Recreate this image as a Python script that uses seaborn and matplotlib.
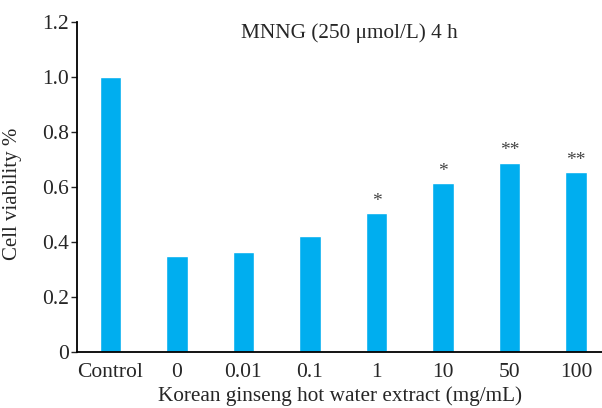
import numpy as np
import pandas as pd
import matplotlib
matplotlib.use('Agg')
import matplotlib.pyplot as plt
import seaborn as sns

# data
categories = ['Control', '0', '0.01', '0.1', '1', '10', '50', '100']
viability = [1.0, 0.349, 0.362, 0.421, 0.504, 0.613, 0.688, 0.654]
marks = ['', '', '', '', '*', '*', '**', '**']
yticks = [0, 0.2, 0.4, 0.6, 0.8, 1.0, 1.2]
yticklabels = ['0', '0.2', '0.4', '0.6', '0.8', '1.0', '1.2']

sns.set_style('ticks')
plt.rcParams['font.family'] = ['Liberation Serif', 'DejaVu Serif']

df = pd.DataFrame({'dose': categories, 'viability': viability})

fig = plt.figure(figsize=(6.02, 4.08), dpi=100)
ax = fig.add_axes([0.128, 0.137, 0.872, 0.81])
sns.barplot(data=df, x='dose', y='viability', color='#00AEEF', saturation=1,
            width=0.32, ax=ax)

for i, (v, s) in enumerate(zip(viability, marks)):
    if s:
        ax.text(i, v + 0.012, s, ha='center', va='bottom', fontsize=14, color='#444444')

ax.text(3.6, 1.16, 'MNNG (250 μmol/L) 4 h', ha='center', va='center', fontsize=15.3)

ax.set_ylim(0, 1.2)
ax.set_xlim(-0.5, 7.39)
ax.set_yticks(yticks)
ax.set_yticklabels(yticklabels, fontsize=15.5)
ax.tick_params(axis='x', length=0, labelsize=15.5, pad=8)
ax.tick_params(axis='y', length=4, width=1, pad=2)
ax.set_xlabel('Korean ginseng hot water extract (mg/mL)', fontsize=15.3, labelpad=3)
ax.set_ylabel('Cell viability %', fontsize=15)
ax.yaxis.set_label_coords(-0.105, 0.48)
sns.despine(ax=ax)
for sp in ['left', 'bottom']:
    ax.spines[sp].set_linewidth(1.3)
    ax.spines[sp].set_color('black')

fig.savefig('out.png', dpi=100)
